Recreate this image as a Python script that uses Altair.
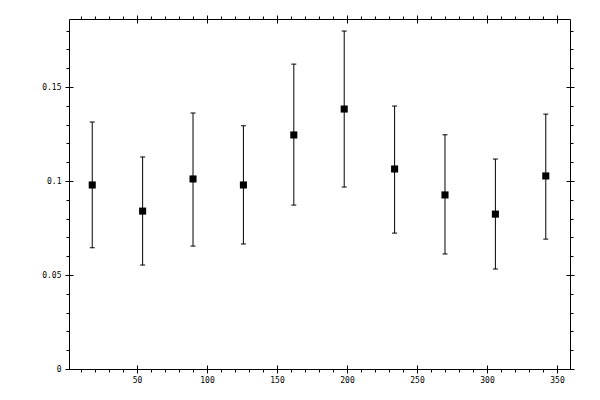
import altair as alt
import pandas as pd

# values
angle = [18, 54, 90, 126, 162, 198, 234, 270, 306, 342]
mean = [0.0979, 0.0840, 0.1011, 0.0979, 0.1245, 0.1383, 0.1064, 0.0926, 0.0824, 0.1027]
low = [0.0645, 0.0553, 0.0654, 0.0665, 0.0872, 0.0968, 0.0723, 0.0612, 0.0532, 0.0691]
high = [0.1314, 0.1128, 0.1362, 0.1294, 0.1622, 0.1798, 0.1399, 0.1246, 0.1117, 0.1356]

x_major = [50, 100, 150, 200, 250, 300, 350]
x_minor = list(range(10, 360, 10))
y_major = [0, 0.05, 0.1, 0.15]
y_minor = [i / 100 for i in range(0, 19)]

df = pd.DataFrame({'angle': angle, 'mean': mean, 'low': low, 'high': high})

FONT = 'DejaVu Sans Mono'
xs = alt.Scale(domain=[1.4, 359.3], nice=False, zero=False)
ys = alt.Scale(domain=[0, 0.1862], nice=False, zero=False)


def axis(orient, values, major, labels=False):
    vertical = orient in ('left', 'right')
    opts = dict(orient=orient, values=values, domain=False, grid=False,
                tickColor='black', tickWidth=1, title=None,
                labels=labels, labelFont=FONT, labelFontSize=8,
                labelColor='black', labelOverlap=False,
                format='~g' if vertical else 'd')
    if major:
        opts.update(offset=-4, tickSize=8)
    else:
        opts.update(tickSize=3)
    if labels:
        opts.update(labelPadding=4 if vertical else 3)
    return alt.Axis(**opts)


base = alt.Chart(df)

bars = base.mark_rule(color='black', strokeWidth=1).encode(
    x=alt.X('angle:Q', scale=xs, axis=axis('bottom', x_minor, False)),
    y=alt.Y('low:Q', scale=ys, axis=axis('left', y_minor, False)),
    y2='high:Q',
)

caps_low = base.mark_tick(orient='horizontal', size=5, thickness=1,
                          color='black', opacity=1).encode(
    x=alt.X('angle:Q', scale=xs, axis=axis('bottom', x_major, True, labels=True)),
    y=alt.Y('low:Q', scale=ys, axis=axis('left', y_major, True, labels=True)),
)

caps_high = base.mark_tick(orient='horizontal', size=5, thickness=1,
                           color='black', opacity=1).encode(
    x=alt.X('angle:Q', scale=xs, axis=axis('top', x_minor, False)),
    y=alt.Y('high:Q', scale=ys, axis=axis('right', y_minor, False)),
)

points = base.mark_square(size=50, color='black', opacity=1).encode(
    x=alt.X('angle:Q', scale=xs, axis=axis('top', x_major, True)),
    y=alt.Y('mean:Q', scale=ys, axis=axis('right', y_major, True)),
)

chart = alt.layer(bars, caps_low, caps_high, points).resolve_axis(
    x='independent', y='independent'
).properties(
    width=501,
    height=350,
    autosize=alt.AutoSizeParams(type='none'),
    padding={'left': 61, 'top': 11, 'right': 20, 'bottom': 22},
    background='white',
).configure_view(
    stroke='black',
    strokeWidth=1,
)

chart.save("out.html", embed_options={"renderer": "svg", "actions": False})
